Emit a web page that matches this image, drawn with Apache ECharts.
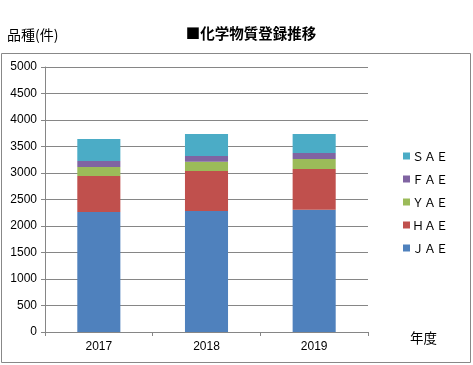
<!DOCTYPE html>
<html><head><meta charset="utf-8">
<script src="https://cdn.jsdelivr.net/npm/echarts@6/dist/echarts.min.js"></script>
<style>html,body{margin:0;padding:0;background:#fff}#c{width:473px;height:365px}</style>
</head><body><div id="c"></div>
<script>
const categories = ['2017', '2018', '2019'];
const JAE = [2265, 2285, 2308];
const HAE = [680, 755, 767];
const YAE = [170, 170, 189];
const FAE = [113, 113, 113];
const SAE = [415, 415, 359];
const seriesNames = ['ＪＡＥ', 'ＨＡＥ', 'ＹＡＥ', 'ＦＡＥ', 'ＳＡＥ'];
const seriesData = [JAE, HAE, YAE, FAE, SAE];
const colors = ['#4F81BD', '#C0504D', '#9BBB59', '#8064A2', '#4BACC6'];

const chart = echarts.init(document.getElementById('c'), null, {renderer: 'canvas'});
chart.setOption({
  animation: false,
  color: colors,
  title: {
    text: '■化学物質登録推移', left: 246, top: 21, textAlign: 'center',
    textStyle: {fontSize: 14.5, fontWeight: 'bold', color: '#000', fontFamily: 'Noto Sans CJK JP'}
  },
  graphic: [
    {type: 'rect', shape: {x: 1.5, y: 53.5, width: 469, height: 309}, style: {fill: 'none', stroke: '#888', lineWidth: 1}, z: -1},
    {type: 'text', left: 7, top: 28, style: {text: '品種(件)', fontSize: 14, fill: '#000', fontFamily: 'Noto Sans CJK JP'}},
    {type: 'text', left: 410, top: 331, style: {text: '年度', fontSize: 13.5, fill: '#000', fontFamily: 'Noto Sans CJK JP'}}
  ],
  legend: {
    orient: 'vertical', left: 398, top: 145,
    data: seriesNames.slice().reverse(),
    itemWidth: 7, itemHeight: 7, itemGap: 11, icon: 'rect',
    textStyle: {fontSize: 12, color: '#000', fontFamily: 'Noto Sans CJK JP', padding: [0, 0, 0, -3]}
  },
  grid: {left: 45, right: 105, top: 67, bottom: 33, containLabel: false},
  xAxis: {
    type: 'category', data: categories,
    axisLine: {lineStyle: {color: '#868686'}},
    axisTick: {show: true, length: 4, lineStyle: {color: '#868686'}},
    axisLabel: {color: '#000', fontSize: 12, margin: 9, fontFamily: 'Arial'}
  },
  yAxis: {
    type: 'value', min: 0, max: 5000, interval: 500,
    axisLine: {show: true, lineStyle: {color: '#868686'}},
    axisTick: {show: true, length: 4, lineStyle: {color: '#868686'}},
    splitLine: {lineStyle: {color: '#868686'}},
    axisLabel: {color: '#000', fontSize: 12, margin: 8, fontFamily: 'Arial', formatter: v => String(v)}
  },
  series: seriesData.map((d, i) => ({
    name: seriesNames[i], type: 'bar', stack: 'total', data: d, barWidth: '40%'
  }))
});
</script></body></html>
